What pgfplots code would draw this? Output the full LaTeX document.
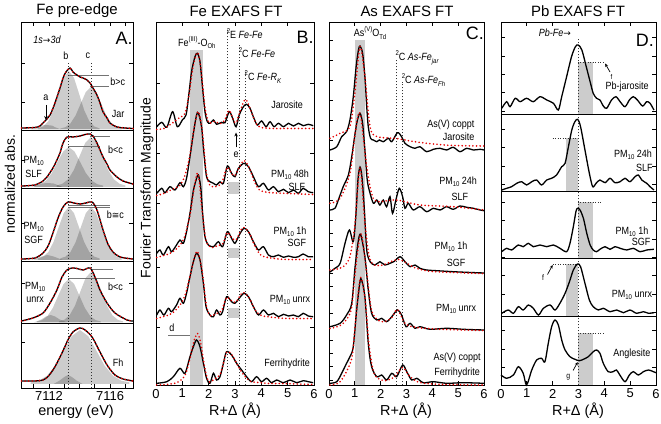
\documentclass[border=0pt]{standalone}
\usepackage{graphicx}
\usepackage{pgfplots}
\pgfplotsset{compat=1.18}
\usepackage{pgfplotstable}
\usepackage{fontspec}
\setmainfont{Liberation Sans}
\newfontfamily\dejavu{DejaVu Sans}
\newfontfamily\narrow[FakeStretch=0.86]{Liberation Sans}
\usetikzlibrary{arrows.meta}
\newcommand{\lab}{\narrow\fontsize{10.5}{12}\selectfont}
\newcommand{\sub}[1]{\raisebox{-0.45ex}{\fontsize{7}{7}\selectfont #1}}
\newcommand{\sps}[1]{\raisebox{0.9ex}{\fontsize{7}{7}\selectfont #1}}
\pgfplotsset{
 panel/.style={scale only axis, clip=false, anchor=south west,
   axis line style={line width=0.8bp}, major tick length=4bp, minor tick length=2.5bp,
   every tick/.style={black, line width=0.7bp}, yticklabels={},
   tick label style={font=\fontsize{13}{15}\selectfont},
   /pgf/number format/assume math mode=true},
 blk/.style={black, line width=1.3bp, smooth, tension=0.5},
 rdd/.style={red!90!black, line width=1.8bp, dash pattern=on 0bp off 3.6bp, line cap=round, smooth, tension=0.5},
 gau/.style={fill=black, fill opacity=0.2, draw=none},
 band/.style={fill=black!20, draw=none},
 vdot/.style={black!80, line width=0.9bp, dash pattern=on 1bp off 2bp},
}
\pgfplotstableread{
E Y
7110.2 260
7111.08 260.5
7111.41 262
7111.61 265
7112.07 273
7112.39 285
7112.72 300
7112.92 310
7113.11 316
7113.38 320
7113.57 316
7113.83 313
7114.03 311
7114.23 310
7114.49 308
7114.69 305
7114.88 300
7115.14 293
7115.34 285
7115.54 276
7115.80 270
7115.99 265
7116.45 261
7116.98 260
7117.5 259.5
}\Ajar
\pgfplotstableread{
E Y
7110.2 202
7111.08 203
7111.61 207
7111.87 211
7112.26 220
7112.52 228
7112.72 235
7112.92 245
7113.18 251
7113.57 251
7114.03 252
7114.36 253.5
7114.69 254
7114.88 252
7115.14 245
7115.34 238
7115.54 231
7115.80 224
7115.99 218
7116.45 211
7116.85 207
7117.5 204
}\Aslf
\pgfplotstableread{
E Y
7110.2 129
7111.08 130
7111.61 135
7111.94 142
7112.26 155
7112.59 170
7112.92 181
7113.24 186
7113.64 185
7114.03 184
7114.42 185
7114.82 186
7115.14 178
7115.54 158
7115.86 144
7116.19 136
7116.65 131
7117.5 129
}\Asgf
\pgfplotstableread{
E Y
7110.2 67
7110.95 70
7111.61 75
7112.07 85
7112.52 98
7112.85 111
7113.18 118
7113.51 120
7113.83 119.5
7114.23 118
7114.69 120
7115.01 111
7115.34 98
7115.80 85
7116.32 75
7117.11 68
7117.5 67
}\Aunrx
\pgfplotstableread{
E Y
7110.2 7
7111.61 8
7112.26 18
7112.85 35
7113.24 48
7113.57 56
7114.03 60
7114.36 58
7114.82 51
7115.34 36
7115.80 23
7116.32 13
7116.85 9
7117.5 7
}\Afh
\begin{document}
\begin{tikzpicture}
\useasboundingbox (0,0) rectangle (661bp,424bp);
% ================= Panel A =================
\begin{axis}[panel, at={(21.5bp,36bp)}, width=111.5bp, height=366bp,
  xmin=7110.2, xmax=7117.5, ymin=0, ymax=366,
  xtick={7111,7112,7113,7114,7115,7116,7117}, xticklabels={,7112,,,,7116,},
  ytick={46,105,165,228,286,325}]
% Jar gaussians
\addplot[gau] coordinates {(7111.29,258.5) (7111.29,259.6) (7111.625,261.5) (7111.96,266.8) (7112.295,277.8) (7112.63,294.2) (7112.965,310.2) (7113.3,317) (7113.635,310.2) (7113.97,294.2) (7114.305,277.8) (7114.64,266.8) (7114.975,261.5) (7115.31,259.6) (7115.31,258.5)} --cycle;
\addplot[gau] coordinates {(7112.74,258.5) (7112.74,259.5) (7113.075,260.8) (7113.41,264.7) (7113.745,272.6) (7114.08,284.5) (7114.415,296.1) (7114.75,301) (7115.085,296.1) (7115.42,284.5) (7115.755,272.6) (7116.09,264.7) (7116.425,260.8) (7116.76,259.5) (7116.76,258.5)} --cycle;
\addplot[gau] coordinates {(7110.8,258.5) (7111.2,260.8) (7111.4,262.4) (7111.8,263) (7112.2,262.4) (7112.4,260.8) (7112.8,258.5)} --cycle;
% SLF gaussians
\addplot[gau] coordinates {(7111.05,201) (7111.05,202.4) (7111.425,203.7) (7111.8,207.3) (7112.175,214.7) (7112.55,225.7) (7112.925,236.4) (7113.3,241) (7113.675,236.4) (7114.05,225.7) (7114.425,214.7) (7114.8,207.3) (7115.175,203.7) (7115.55,202.4) (7115.55,201)} --cycle;
\addplot[gau] coordinates {(7112.5,201) (7112.5,202.5) (7112.875,204.2) (7113.25,208.6) (7113.625,217.9) (7114.0,231.7) (7114.375,245.2) (7114.75,251) (7115.125,245.2) (7115.5,231.7) (7115.875,217.9) (7116.25,208.6) (7116.625,204.2) (7117.0,202.5) (7117.0,201)} --cycle;
\addplot[gau] coordinates {(7110.9,201) (7111.5,204.5) (7111.9,205) (7112.3,204.5) (7112.9,201)} --cycle;
% SGF gaussians
\addplot[gau] coordinates {(7111.29,128) (7111.29,129.6) (7111.625,131.3) (7111.96,136) (7112.295,145.9) (7112.63,160.5) (7112.965,174.9) (7113.3,181) (7113.635,174.9) (7113.97,160.5) (7114.305,145.9) (7114.64,136) (7114.975,131.3) (7115.31,129.6) (7115.31,128)} --cycle;
\addplot[gau] coordinates {(7112.74,128) (7112.74,129.6) (7113.075,131.3) (7113.41,136) (7113.745,145.9) (7114.08,160.5) (7114.415,174.9) (7114.75,181) (7115.085,174.9) (7115.42,160.5) (7115.755,145.9) (7116.09,136) (7116.425,131.3) (7116.76,129.6) (7116.76,128)} --cycle;
\addplot[gau] coordinates {(7110.9,128) (7111.5,131.5) (7111.9,133) (7112.3,131.5) (7112.9,128)} --cycle;
% unrx gaussians
\addplot[gau] coordinates {(7111.2,65.5) (7111.2,66.5) (7111.55,67.9) (7111.9,71.8) (7112.25,80) (7112.6,92.1) (7112.95,103.9) (7113.3,109) (7113.65,103.9) (7114.0,92.1) (7114.35,80) (7114.7,71.8) (7115.05,67.9) (7115.4,66.5) (7115.4,65.5)} --cycle;
\addplot[gau] coordinates {(7112.65,65.5) (7112.65,66.6) (7113.0,68.2) (7113.35,72.8) (7113.7,82.2) (7114.05,96.3) (7114.4,110.1) (7114.75,116) (7115.1,110.1) (7115.45,96.3) (7115.8,82.2) (7116.15,72.8) (7116.5,68.2) (7116.85,66.6) (7116.85,65.5)} --cycle;
\addplot[gau] coordinates {(7111.0,65.5) (7111.5,68.5) (7111.8,71.5) (7112.1,73) (7112.4,71.5) (7112.7,68.5) (7113.2,65.5)} --cycle;
% Fh gaussians
\addplot[gau] coordinates {(7110.79,4) (7110.79,5.6) (7111.33,7.3) (7111.87,12.2) (7112.41,22.2) (7112.95,37.1) (7113.49,51.8) (7114.03,58) (7114.57,51.8) (7115.11,37.1) (7115.65,22.2) (7116.19,12.2) (7116.73,7.3) (7117.27,5.6) (7117.27,4)} --cycle;
\addplot[gau] coordinates {(7112.3,4) (7112.7,7.5) (7113.0,11) (7113.24,13) (7113.5,11) (7113.8,7.5) (7114.2,4)} --cycle;
% reference lines
\addplot[vdot] coordinates {(7113.25,0) (7113.25,326)};
\addplot[vdot] coordinates {(7114.75,0) (7114.75,326)};
\addplot[black, line width=0.8bp] coordinates {(7110.2,258) (7117.5,258)};
\addplot[black, line width=0.8bp] coordinates {(7110.2,200) (7117.5,200)};
\addplot[black, line width=0.8bp] coordinates {(7110.2,127) (7117.5,127)};
\addplot[black, line width=0.8bp] coordinates {(7110.2,65) (7117.5,65)};
\addplot[black!55, line width=1bp] coordinates {(7113.3,312) (7115.93,312)};
\addplot[black!55, line width=1bp] coordinates {(7114.69,301) (7115.93,301)};
\addplot[black!55, line width=1bp] coordinates {(7114.69,251) (7115.99,251)};
\addplot[black!55, line width=1bp] coordinates {(7113.24,241) (7115.34,241)};
\addplot[black!55, line width=1bp] coordinates {(7113.24,182) (7115.99,182)};
\addplot[black!55, line width=1bp] coordinates {(7113.24,180) (7115.99,180)};
\addplot[black!55, line width=1bp] coordinates {(7114.82,118) (7116.19,118)};
\addplot[black!55, line width=1bp] coordinates {(7113.24,109) (7116.32,109)};
% curves
\addplot[blk] table[x=E,y=Y] {\Ajar};
\addplot[rdd] table[x=E,y=Y] {\Ajar};
\addplot[blk] table[x=E,y=Y] {\Aslf};
\addplot[rdd] table[x=E,y=Y] {\Aslf};
\addplot[blk] table[x=E,y=Y] {\Asgf};
\addplot[rdd] table[x=E,y=Y] {\Asgf};
\addplot[blk] table[x=E,y=Y] {\Aunrx};
\addplot[rdd] table[x=E,y=Y] {\Aunrx};
\addplot[blk] table[x=E,y=Y] {\Afh};
\addplot[rdd] table[x=E,y=Y] {\Afh};
% labels
\node[font=\lab\itshape] at (axis cs:7111.87,348) {1s{\dejavu\fontsize{9}{9}\selectfont →}3d};
\node[font=\fontsize{18}{18}\selectfont] at (axis cs:7116.92,350) {A.};
\node[font=\lab] at (axis cs:7113.1,332) {b};
\node[font=\lab] at (axis cs:7114.55,332) {c};
\node[font=\lab] at (axis cs:7111.8,290) {a};
\draw[-{Stealth[length=4bp,width=3.5bp]}, line width=0.8bp] (axis cs:7111.8,283) -- (axis cs:7111.8,268);
\node[font=\lab] at (axis cs:7116.5,306) {b>c};
\node[font=\lab] at (axis cs:7116.52,274) {Jar};
\node[font=\lab] at (axis cs:7116.35,238) {b<c};
\node[font=\lab, inner sep=0pt] at (axis cs:7111.0,227) {PM\sub{10}};
\node[font=\lab, inner sep=0pt] at (axis cs:7111.0,214) {SLF};
\node[font=\lab] at (axis cs:7116.35,173) {b{\dejavu\fontsize{9}{9}\selectfont ≅}c};
\node[font=\lab, inner sep=0pt] at (axis cs:7111.0,161) {PM\sub{10}};
\node[font=\lab, inner sep=0pt] at (axis cs:7111.0,148) {SGF};
\node[font=\lab] at (axis cs:7116.35,101) {b<c};
\node[font=\lab, inner sep=0pt] at (axis cs:7111.1,101) {PM\sub{10}};
\node[font=\lab, inner sep=0pt] at (axis cs:7111.1,88) {unrx};
\node[font=\lab] at (axis cs:7116.52,25) {Fh};
\end{axis}
% ================= Panel B =================
\begin{axis}[panel, at={(156bp,38.5bp)}, width=158bp, height=363.5bp,
  xmin=0, xmax=6, ymin=0, ymax=363.5, xtick={0,...,6},
  ytick={58.5,118.5,182.5,232.5,302.5}]
\addplot[band] coordinates {(1.3,0) (1.78,0) (1.78,335.5) (1.3,335.5)} --cycle;
\addplot[band] coordinates {(2.72,191.5) (3.18,191.5) (3.18,203.5) (2.72,203.5)} --cycle;
\addplot[band] coordinates {(2.72,127.5) (3.18,127.5) (3.18,137.5) (2.72,137.5)} --cycle;
\addplot[band] coordinates {(2.72,67.5) (3.18,67.5) (3.18,77.5) (2.72,77.5)} --cycle;
\addplot[vdot] coordinates {(2.72,0) (2.72,355)};
\addplot[vdot] coordinates {(3.18,0) (3.18,340)};
\addplot[vdot] coordinates {(3.40,0) (3.40,315)};
\addplot[black!55, line width=1bp] coordinates {(0.47,49.5) (1.3,49.5)};
% Jarosite
\addplot[blk] coordinates {(0.03,258.8) (0.22,263.2) (0.41,258.2) (0.63,273.8) (0.81,258.8) (1.00,265.5) (1.14,270.5) (1.23,287.2) (1.35,313.8) (1.48,328.8) (1.57,332.2) (1.67,323.8) (1.77,297.2) (1.86,273.8) (1.95,263.8) (2.05,262.2) (2.18,265.5) (2.30,261.2) (2.49,263.2) (2.62,262.8) (2.78,273.8) (2.91,267.2) (3.04,258.8) (3.16,270.5) (3.32,278.8) (3.44,281.2) (3.57,277.2) (3.72,267.2) (3.85,260.5) (4.01,264.5) (4.18,258.8) (4.33,263.8) (4.48,258.8) (4.65,262.2) (4.84,258.8) (5.03,262.2) (5.22,259.5) (5.41,262.2) (5.59,259.8) (5.78,261.2) (5.97,259.8)};
\addplot[rdd] coordinates {(0.03,256) (0.3,257) (0.6,262) (0.9,268) (1.1,272) (1.25,290) (1.4,318) (1.57,333) (1.7,318) (1.85,280) (2.0,263) (2.2,264) (2.45,262) (2.6,265) (2.78,275) (2.95,265) (3.05,263) (3.2,275) (3.4,286) (3.6,275) (3.8,262) (4.0,258) (4.5,257) (5.0,257) (5.5,257) (5.97,257)};
% SLF
\addplot[blk] coordinates {(0.03,192.2) (0.22,197.2) (0.34,192.8) (0.53,198.8) (0.72,195.5) (0.91,202.8) (1.04,198.8) (1.16,207.2) (1.29,228.8) (1.42,252.2) (1.54,270.5) (1.61,272.2) (1.73,258.8) (1.82,232.2) (1.92,208.8) (2.05,203.8) (2.18,202.2) (2.30,200.5) (2.43,203.8) (2.56,202.2) (2.71,219.5) (2.87,212.2) (3.00,208.8) (3.13,217.2) (3.34,222.2) (3.51,218.8) (3.70,208.8) (3.89,198.8) (4.08,202.2) (4.27,195.5) (4.46,198.8) (4.65,193.8) (4.84,196.2) (5.03,192.8) (5.22,195.5) (5.41,192.2) (5.59,197.2) (5.78,193.8) (5.97,192.8)};
\addplot[rdd] coordinates {(0.03,190) (0.3,192) (0.6,196) (0.9,200) (1.1,210) (1.3,232) (1.45,258) (1.6,274) (1.75,256) (1.9,215) (2.05,200) (2.3,199) (2.5,203) (2.7,218) (2.87,212) (3.0,210) (3.2,220) (3.35,225) (3.55,217) (3.75,203) (3.95,195) (4.3,193) (5.0,192) (5.97,191)};
% SGF
\addplot[blk] coordinates {(0.03,132.2) (0.15,135.5) (0.28,130.5) (0.47,138.8) (0.59,133.8) (0.78,140.5) (0.91,145.5) (1.04,142.2) (1.16,153.8) (1.29,172.2) (1.42,195) (1.54,207) (1.61,210.5) (1.70,198) (1.77,172.5) (1.86,148.8) (1.99,140.5) (2.18,138.8) (2.37,143.8) (2.53,138.8) (2.71,153.8) (2.87,147.2) (3.00,142.2) (3.16,150.5) (3.34,157.2) (3.51,153.8) (3.70,143.8) (3.89,135.5) (4.08,138.8) (4.27,130.5) (4.46,128.8) (4.65,130.5) (4.84,128.2) (5.03,129.5) (5.22,128.2) (5.41,128.8) (5.59,131.5) (5.78,128.8) (5.97,128.8)};
\addplot[rdd] coordinates {(0.03,128) (0.3,130) (0.6,133) (0.9,140) (1.1,150) (1.3,172) (1.45,198) (1.6,212) (1.75,175) (1.9,145) (2.1,138) (2.35,140) (2.55,142) (2.7,153) (2.9,147) (3.05,146) (3.3,158) (3.55,152) (3.75,140) (4.0,130) (4.5,127) (5.0,126) (5.97,126)};
% unrx
\addplot[blk] coordinates {(0.03,70.5) (0.15,75.5) (0.30,70.5) (0.47,77.2) (0.59,73.8) (0.78,80.5) (0.91,87.2) (1.04,82.2) (1.16,92.2) (1.29,108.8) (1.42,123.8) (1.54,132.2) (1.67,125.5) (1.80,102.2) (1.90,78.8) (2.05,70.5) (2.18,68.8) (2.30,75.5) (2.43,70.5) (2.53,73.8) (2.68,88.8) (2.87,83.8) (3.00,82.2) (3.16,87.2) (3.34,92.2) (3.51,88.8) (3.70,78.8) (3.89,70.5) (4.08,75.5) (4.27,70.5) (4.46,72.2) (4.65,68.8) (4.84,71.2) (5.03,69.5) (5.22,70.5) (5.41,68.8) (5.59,72.2) (5.78,69.5) (5.97,68.8)};
\addplot[rdd] coordinates {(0.03,67) (0.3,69) (0.6,72) (0.9,80) (1.1,90) (1.3,110) (1.45,127) (1.58,134) (1.75,115) (1.9,82) (2.05,70) (2.3,72) (2.5,75) (2.68,88) (2.9,84) (3.05,84) (3.3,93) (3.55,87) (3.75,76) (4.0,70) (4.5,68) (5.0,67) (5.97,67)};
% Ferrihydrite
\addplot[blk] coordinates {(0.03,2.2) (0.41,3.8) (0.66,8.8) (0.91,17.2) (1.10,12.2) (1.29,28.8) (1.42,38.8) (1.54,45.5) (1.67,38.8) (1.80,22.2) (1.92,7.2) (2.05,2.2) (2.18,12.2) (2.30,5.5) (2.43,8.8) (2.56,22.2) (2.68,33.8) (2.87,30.5) (3.06,22.2) (3.25,15.5) (3.44,8.8) (3.63,3.8) (3.82,8.8) (4.01,3.8) (4.20,7.2) (4.39,2.8) (4.58,5.5) (4.84,2.8) (5.09,5.5) (5.34,2.8) (5.59,4.8) (5.78,3.8) (5.97,2.8)};
\addplot[rdd] coordinates {(0.03,0.5) (0.4,1) (0.8,3) (1.1,10) (1.3,28) (1.45,45) (1.58,52) (1.7,42) (1.85,18) (2.0,4) (2.2,6) (2.45,12) (2.68,33) (2.9,30) (3.1,20) (3.35,10) (3.6,4) (3.9,3) (4.3,2) (4.8,2) (5.3,1.5) (5.97,1)};
% labels
\node[font=\lab] at (axis cs:1.55,343) {Fe\sps{(III)}-O\sub{Oh}};
\node[font=\lab, anchor=west, inner sep=0pt] at (axis cs:2.68,351.5) {\sps{2}E \textit{Fe-Fe}};
\node[font=\lab, anchor=west, inner sep=0pt] at (axis cs:3.14,332.5) {\sps{2}C \textit{Fe-Fe}};
\node[font=\lab, anchor=west, inner sep=0pt] at (axis cs:3.36,308.5) {\sps{2}C \textit{Fe-R\sub{K}}};
\node[font=\fontsize{18}{18}\selectfont] at (axis cs:5.66,348.5) {B.};
\node[font=\lab] at (axis cs:4.98,280.5) {Jarosite};
\draw[-{Stealth[length=4bp,width=3.5bp]}, line width=0.8bp] (axis cs:3.04,238) -- (axis cs:3.04,253);
\node[font=\lab] at (axis cs:3.04,231) {e};
\node[font=\lab] at (axis cs:5.09,210.5) {PM\sub{10} 48h};
\node[font=\lab] at (axis cs:5.35,198.5) {SLF};
\node[font=\lab] at (axis cs:5.09,153.5) {PM\sub{10} 1h};
\node[font=\lab] at (axis cs:5.35,142.5) {SGF};
\node[font=\lab] at (axis cs:5.09,85.5) {PM\sub{10} unrx};
\node[font=\lab] at (axis cs:4.98,21.5) {Ferrihydrite};
\node[font=\lab] at (axis cs:0.6,57.5) {d};
\end{axis}
% ================= Panel C =================
\begin{axis}[panel, at={(329bp,38.5bp)}, width=155bp, height=363.5bp,
  xmin=0, xmax=6, ymin=0, ymax=363.5, xtick={0,...,6}, ytick pos=left,
  ytick={5.5,18.8,32.1,45.5,58.8,72.1,85.5,98.8,112.1,125.5,138.8,152.1,165.5,185.5,205.5,225.5,245.5,265.5,285.5,305.5,325.5,345.5}]
\addplot[band] coordinates {(1.02,0) (1.40,0) (1.40,345.5) (1.02,345.5)} --cycle;
\addplot[vdot] coordinates {(2.63,0) (2.63,325.5)};
\addplot[vdot] coordinates {(2.86,0) (2.86,303.5)};
% As coppt Jarosite
\addplot[blk] coordinates {(0.04,235.5) (0.30,238.8) (0.49,248.8) (0.68,253.8) (0.81,265.5) (0.94,288.8) (1.05,318.8) (1.14,335.5) (1.20,339.5) (1.30,332.2) (1.39,308.8) (1.46,278.8) (1.52,258.8) (1.61,247.2) (1.72,245.5) (1.85,243.8) (1.95,245.5) (2.10,243.8) (2.30,247.2) (2.43,243.8) (2.65,252.8) (2.81,248.8) (2.94,242.2) (3.14,238.8) (3.33,237.2) (3.52,238.8) (3.78,233.8) (4.04,236.2) (4.30,237.2) (4.55,235.5) (4.81,238.2) (5.07,233.8) (5.33,237.2) (5.59,235.5) (5.85,236.2) (6.0,235.5)};
\addplot[rdd] coordinates {(0.04,247.2) (0.43,252.2) (0.81,258.8) (1.00,292) (1.20,339) (1.39,308.8) (1.59,258.8) (1.85,249) (2.62,247) (3.26,244) (4.04,241.5) (4.81,240) (6.0,239.5)};
% SLF
\addplot[blk] coordinates {(0.04,175.5) (0.23,177.2) (0.36,185.5) (0.55,198.8) (0.75,210.5) (0.88,228.8) (1.01,252.2) (1.10,265.5) (1.20,272.2) (1.30,262.2) (1.39,235.5) (1.48,205.5) (1.59,192.2) (1.72,182.2) (1.85,185.5) (1.97,180.5) (2.10,185.5) (2.23,178.8) (2.36,188.8) (2.46,172.2) (2.59,185.5) (2.72,197.2) (2.85,188.8) (2.94,177.2) (3.07,182.2) (3.26,175.5) (3.52,178.8) (3.78,173.8) (4.04,177.2) (4.30,175.5) (4.55,178.8) (4.81,176.2) (5.07,179.5) (5.33,178.2) (5.59,177.2) (5.85,175.5) (6.0,174.8)};
\addplot[rdd] coordinates {(0.04,182.2) (0.43,187.2) (0.81,212) (1.01,252) (1.20,272.2) (1.46,218.8) (1.65,192.2) (1.85,184) (2.62,185.5) (3.52,180.5) (4.81,178.8) (6.0,175.5)};
% SGF
\addplot[blk] coordinates {(0.04,113.5) (0.23,117.2) (0.43,122.2) (0.62,142.2) (0.79,155.5) (0.94,143.8) (1.04,170) (1.12,205.5) (1.20,218.5) (1.28,207.5) (1.37,175.5) (1.46,135.5) (1.59,123.8) (1.78,120.5) (1.97,123.8) (2.16,120.5) (2.36,122.2) (2.51,123.8) (2.75,128.8) (2.94,123.8) (3.14,118.8) (3.33,120.5) (3.52,117.2) (3.78,115.5) (4.17,114.8) (4.81,113.8) (5.5,113) (6.0,112.5)};
\addplot[rdd] coordinates {(0.04,115.5) (0.5,118) (0.8,128) (1.0,160) (1.2,218) (1.4,160) (1.6,125) (2.0,120) (2.7,126) (3.3,118) (4.0,114) (6.0,112)};
% unrx
\addplot[blk] coordinates {(0.04,58.8) (0.43,62.2) (0.68,70.5) (0.88,82.2) (1.01,118.8) (1.14,145.5) (1.23,150.5) (1.39,128.8) (1.52,95.5) (1.65,72.2) (1.85,65.5) (2.04,67.2) (2.23,63.8) (2.43,68.8) (2.65,75.5) (2.81,70.5) (2.98,58.8) (3.14,62.2) (3.33,57.2) (3.52,58.8) (3.91,56.2) (4.55,57.2) (5.2,56.2) (6.0,55.5)};
\addplot[rdd] coordinates {(0.04,57) (0.5,61) (0.85,75) (1.0,110) (1.23,152) (1.45,115) (1.65,75) (2.0,64) (2.4,67) (2.65,76) (2.95,62) (3.4,58) (4.5,56) (6.0,55)};
% Ferrihydrite
\addplot[blk] coordinates {(0.04,2.2) (0.30,3.8) (0.49,12.2) (0.68,22.2) (0.81,28.8) (0.94,38.8) (1.07,75.5) (1.20,103.8) (1.26,105.5) (1.39,88.8) (1.52,42.2) (1.65,18.8) (1.85,8.8) (2.04,10.5) (2.23,5.5) (2.43,12.2) (2.62,8.8) (2.85,20.5) (3.01,13.8) (3.20,5.5) (3.40,7.2) (3.65,2.8) (4.04,3.8) (4.55,2.2) (5.2,2.8) (6.0,2.2)};
\addplot[rdd] coordinates {(0.04,0.5) (0.4,3) (0.7,15) (0.9,30) (1.05,70) (1.22,108) (1.4,85) (1.55,40) (1.75,12) (2.1,5) (2.5,8) (2.85,18) (3.1,10) (3.5,3) (4.5,1) (6.0,0.5)};
% labels
\node[font=\lab] at (axis cs:1.59,352.5) {As\sps{(V)}O\sub{Td}};
\node[font=\lab, anchor=west, inner sep=0pt] at (axis cs:2.57,327.5) {\sps{2}C \textit{As-Fe\sub{jar}}};
\node[font=\lab, anchor=west, inner sep=0pt] at (axis cs:2.81,305.5) {\sps{2}C \textit{As-Fe\sub{Fh}}};
\node[font=\fontsize{18}{18}\selectfont] at (axis cs:5.65,352.5) {C.};
\node[font=\lab] at (axis cs:4.72,260.5) {As(V) coppt};
\node[font=\lab] at (axis cs:5.02,248.5) {Jarosite};
\node[font=\lab] at (axis cs:5.0,203.5) {PM\sub{10} 24h};
\node[font=\lab] at (axis cs:5.07,188.5) {SLF};
\node[font=\lab] at (axis cs:4.72,138.5) {PM\sub{10} 1h};
\node[font=\lab] at (axis cs:4.92,122.5) {SGF};
\node[font=\lab] at (axis cs:4.92,76.5) {PM\sub{10} unrx};
\node[font=\lab] at (axis cs:4.96,27.5) {As(V) coppt};
\node[font=\lab] at (axis cs:4.96,12.5) {Ferrihydrite};
\end{axis}
% ================= Panel D =================
\begin{axis}[panel, at={(501bp,38.5bp)}, width=155bp, height=363.5bp,
  xmin=0, xmax=6, ymin=0, ymax=363.5, xtick={0,...,6},
  ytick={18.3,36.6,54.9,73.2,91.5,109.8,128.1,146.4,164.7,183,201.3,219.6,237.9,256.2,274.5,292.8,311.1,329.4,347.7}]
\addplot[band] coordinates {(2.98,271.5) (3.55,271.5) (3.55,323.5) (2.98,323.5)} --cycle;
\addplot[band] coordinates {(2.5,194.5) (2.98,194.5) (2.98,247.5) (2.5,247.5)} --cycle;
\addplot[band] coordinates {(2.98,127.5) (3.57,127.5) (3.57,183.5) (2.98,183.5)} --cycle;
\addplot[band] coordinates {(2.5,69.5) (2.98,69.5) (2.98,121.5) (2.5,121.5)} --cycle;
\addplot[band] coordinates {(2.98,0) (3.57,0) (3.57,52.5) (2.98,52.5)} --cycle;
\addplot[vdot] coordinates {(2.98,0) (2.98,347.5)};
\addplot[black!80, line width=0.7bp, dash pattern=on 1bp off 1.5bp] coordinates {(2.98,323.5) (3.96,323.5)};
\addplot[black!80, line width=0.7bp, dash pattern=on 1bp off 1.5bp] coordinates {(2.0,247.5) (2.98,247.5)};
\addplot[black!80, line width=0.7bp, dash pattern=on 1bp off 1.5bp] coordinates {(2.98,183.5) (3.93,183.5)};
\addplot[black!80, line width=0.7bp, dash pattern=on 1bp off 1.5bp] coordinates {(2.0,121.5) (2.98,121.5)};
\addplot[black!80, line width=0.7bp, dash pattern=on 1bp off 1.5bp] coordinates {(2.98,52.5) (3.96,52.5)};
\addplot[black, line width=0.8bp] coordinates {(0,271.5) (6,271.5)};
\addplot[black, line width=0.8bp] coordinates {(0,194.5) (6,194.5)};
\addplot[black, line width=0.8bp] coordinates {(0,127.5) (6,127.5)};
\addplot[black, line width=0.8bp] coordinates {(0,69.5) (6,69.5)};
% Pb-jarosite
\addplot[blk] coordinates {(0.03,277.2) (0.22,283.8) (0.35,278.8) (0.55,287.2) (0.74,283.8) (0.99,287.2) (1.25,283.8) (1.51,288.8) (1.77,285.5) (2.03,282.2) (2.22,275.5) (2.35,288.8) (2.54,308.8) (2.73,328.8) (2.88,338.8) (2.99,340.5) (3.13,335.5) (3.30,318.8) (3.45,303.8) (3.57,292.2) (3.70,287.2) (3.83,285.5) (3.96,279.5) (4.09,277.2) (4.28,285.5) (4.45,288.8) (4.61,283.8) (4.80,278.8) (4.97,285.5) (5.12,288.8) (5.28,285.5) (5.48,279.5) (5.64,283.8) (5.77,282.2) (5.92,275.5)};
% SLF
\addplot[blk] coordinates {(0.03,195.5) (0.22,197.2) (0.41,198.8) (0.61,202.2) (0.80,203.8) (0.99,200.5) (1.19,203.8) (1.38,205.5) (1.57,200.5) (1.77,205.5) (1.96,207.2) (2.15,210.5) (2.35,218.8) (2.48,222.2) (2.61,238.8) (2.74,255.5) (2.86,263.8) (2.97,266.2) (3.08,258.8) (3.25,235.5) (3.42,212.2) (3.55,198.8) (3.68,202.2) (3.83,205.5) (4.03,202.8) (4.22,207.2) (4.41,202.8) (4.61,203.8) (4.80,207.2) (4.99,203.8) (5.19,208.8) (5.32,210.5) (5.45,205.5) (5.64,202.2) (5.77,198.8) (5.92,195.5)};
% SGF
\addplot[blk] coordinates {(0.03,133.8) (0.22,137.2) (0.41,135.5) (0.67,140.5) (0.86,138.8) (1.06,142.2) (1.25,138.8) (1.51,140.5) (1.77,138.8) (2.03,140.5) (2.28,137.2) (2.54,133.8) (2.67,142.2) (2.80,158.8) (2.90,173.8) (2.96,177.2) (3.06,175.5) (3.19,167.2) (3.32,152.2) (3.45,140.5) (3.57,135.5) (3.70,133.8) (3.83,136.2) (4.03,138.8) (4.22,136.2) (4.41,138.8) (4.61,137.2) (4.87,135.5) (5.12,137.2) (5.38,133.8) (5.64,135.5) (5.92,136.2)};
% unrx
\addplot[blk] coordinates {(0.03,72.2) (0.28,75.5) (0.48,72.2) (0.67,78.8) (0.86,75.5) (1.06,80.5) (1.25,77.2) (1.45,70.5) (1.64,77.2) (1.90,80.5) (2.09,75.5) (2.28,82.2) (2.48,92.2) (2.65,103.8) (2.80,115.5) (2.96,121.5) (3.08,118.8) (3.25,102.2) (3.42,85.5) (3.57,78.8) (3.77,75.5) (3.96,77.2) (4.22,73.8) (4.48,75.5) (4.74,72.8) (4.99,75.5) (5.25,72.2) (5.51,73.8) (5.71,72.2) (5.92,72.8)};
% Anglesite
\addplot[blk] coordinates {(0.0,10.5) (0.22,7.2) (0.48,10.5) (0.67,18.8) (0.86,12.2) (0.99,0.5) (1.19,15.5) (1.38,25.5) (1.57,27.2) (1.70,23.8) (1.83,42.2) (1.96,58.8) (2.09,65.5) (2.22,60.5) (2.35,45.5) (2.48,35.5) (2.67,28.8) (2.86,26.2) (3.03,24.8) (3.19,26.2) (3.38,28.8) (3.57,33.8) (3.70,35.5) (3.83,32.2) (3.96,22.2) (4.15,13.8) (4.34,13.8) (4.47,15.5) (4.60,10.5) (4.80,3.8) (4.97,10.5) (5.12,13.8) (5.32,10.5) (5.51,13.8) (5.71,15.5) (5.90,13.8) (6.0,12.8)};
% labels
\node[font=\lab] at (axis cs:2.09,352.5) {\textit{Pb-Fe}{\dejavu\fontsize{9}{9}\selectfont →}};
\node[font=\fontsize{18}{18}\selectfont] at (axis cs:5.57,345.5) {D.};
\node[font=\lab] at (axis cs:4.88,298.5) {Pb-jarosite};
\draw[-{Stealth[length=3.5bp,width=3bp]}, line width=0.7bp] (axis cs:4.22,313.5) -- (axis cs:4.03,322);
\node[font=\narrow\fontsize{7}{7}\selectfont] at (axis cs:4.28,309) {f};
\node[font=\lab] at (axis cs:5.11,230.5) {PM\sub{10} 24h};
\node[font=\lab] at (axis cs:5.55,217.5) {SLF};
\node[font=\lab] at (axis cs:5.07,153.5) {PM\sub{10} 1h};
\node[font=\lab] at (axis cs:5.42,143.5) {SGF};
\draw[-{Stealth[length=3.5bp,width=3bp]}, line width=0.7bp] (axis cs:1.8,111) -- (axis cs:2.0,120.5);
\node[font=\narrow\fontsize{8}{8}\selectfont] at (axis cs:1.63,107.5) {f};
\node[font=\lab] at (axis cs:5.07,90.5) {PM\sub{10} unrx};
\node[font=\lab] at (axis cs:5.07,31.5) {Anglesite};
\draw[-{Stealth[length=3.5bp,width=3bp]}, line width=0.7bp] (axis cs:2.79,15) -- (axis cs:2.97,23.5);
\node[font=\narrow\fontsize{8}{8}\selectfont] at (axis cs:2.6,8.5) {g};
\end{axis}
% ================= titles and axis labels =================
\node[font=\fontsize{15}{17}\selectfont] at (77bp,413bp) {Fe pre-edge};
\node[font=\fontsize{15}{17}\selectfont] at (236bp,413bp) {Fe EXAFS FT};
\node[font=\fontsize{15}{17}\selectfont] at (407bp,413bp) {As EXAFS FT};
\node[font=\fontsize{15}{17}\selectfont] at (578bp,413bp) {Pb EXAFS FT};
\node[font=\fontsize{14.5}{16}\selectfont] at (76bp,12bp) {energy (eV)};
\node[font=\fontsize{14.5}{16}\selectfont] at (235bp,13bp) {R+Δ (Å)};
\node[font=\fontsize{14.5}{16}\selectfont] at (406bp,13bp) {R+Δ (Å)};
\node[font=\fontsize{14.5}{16}\selectfont] at (578bp,13bp) {R+Δ (Å)};
\node[font=\fontsize{14}{16}\selectfont, rotate=90] at (10bp,240bp) {normalized abs.};
\node[font=\fontsize{14}{16}\selectfont, rotate=90] at (147bp,236bp) {Fourier Transform Magnitude};
\end{tikzpicture}
\end{document}
